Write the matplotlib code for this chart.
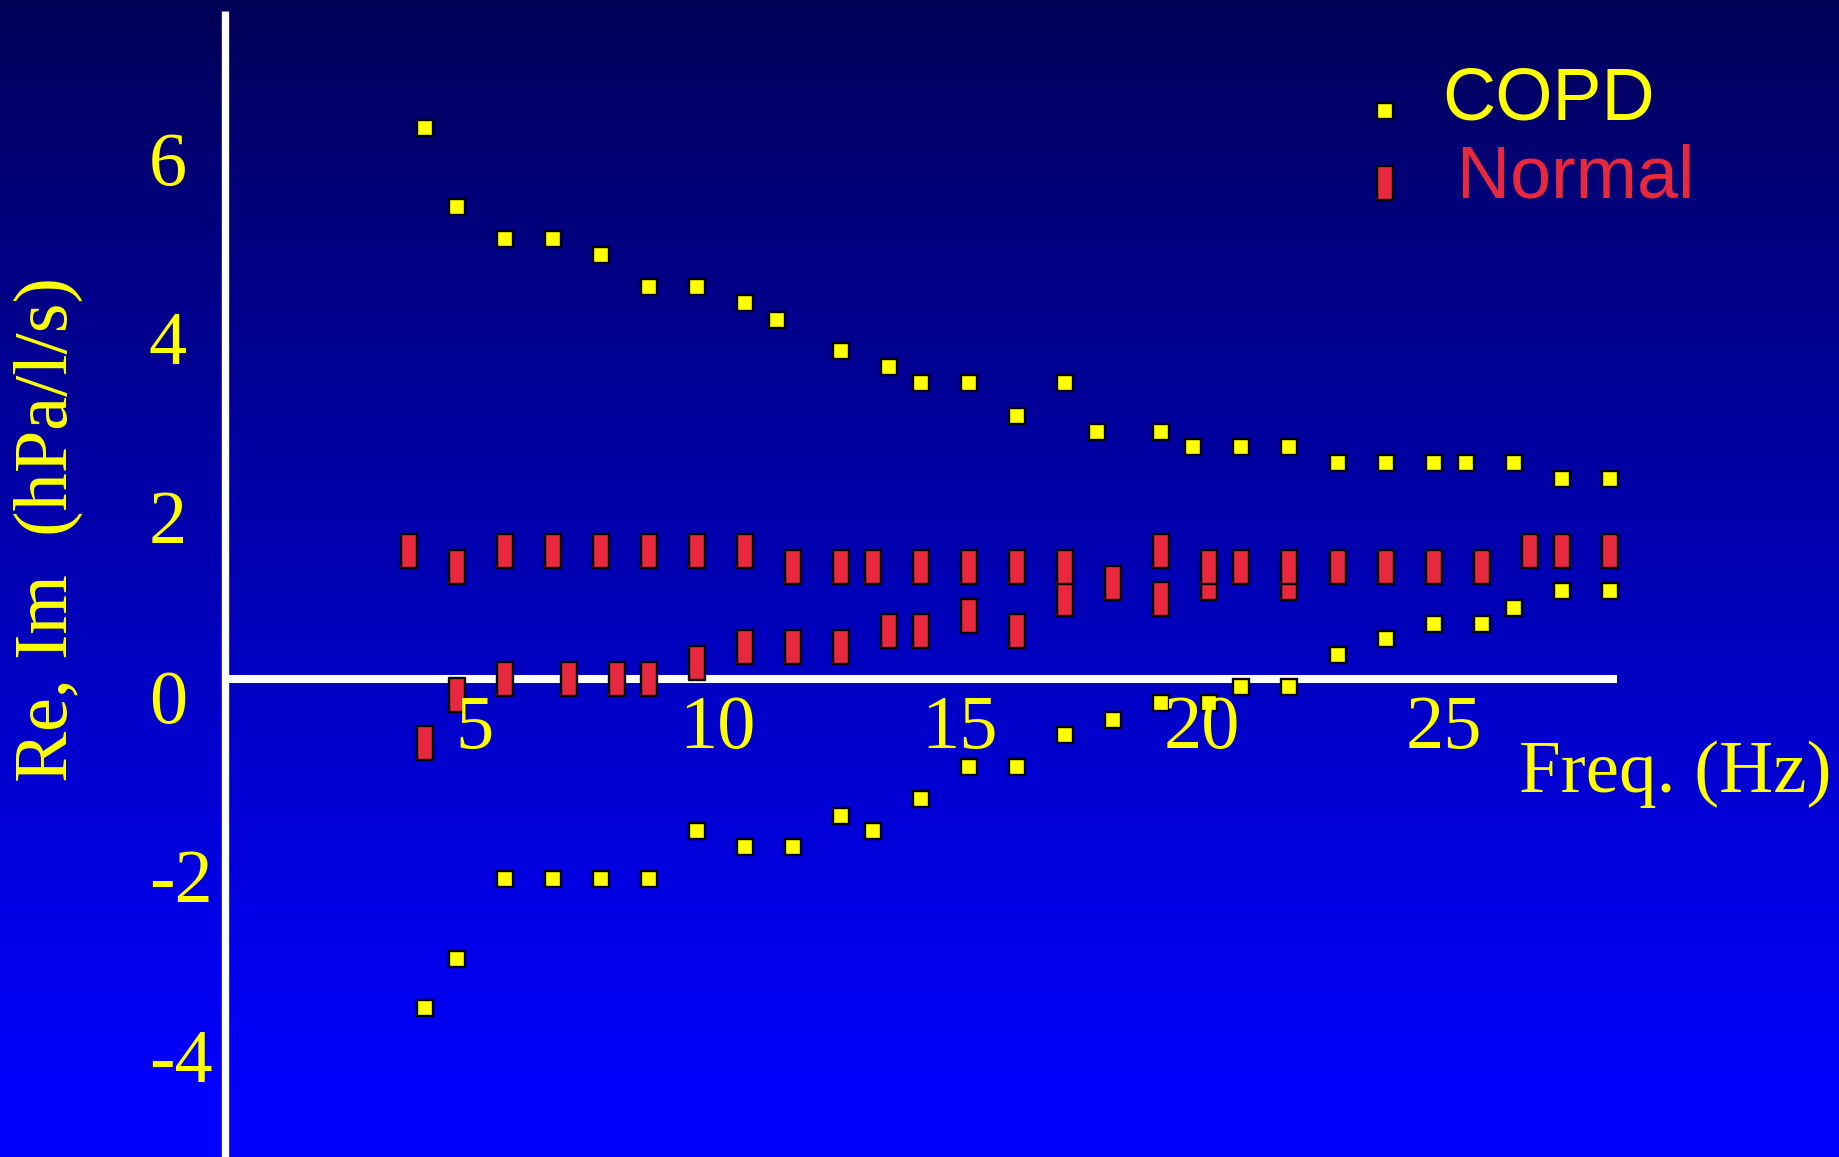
import numpy as np
import matplotlib
matplotlib.use("Agg")
import matplotlib.pyplot as plt
from matplotlib.path import Path
from matplotlib.transforms import ScaledTranslation

plt.rcParams["font.family"] = ["Liberation Serif", "DejaVu Serif"]

# ---- data: oscillometry impedance (real / imaginary parts) vs frequency ----
copd_re_freq = [3.98, 4.64, 5.63, 6.62, 7.61, 8.60, 9.59, 10.58, 11.24, 12.56,
                13.55, 14.21, 15.20, 16.19, 17.18, 17.84, 19.16, 19.82, 20.81,
                21.80, 22.80, 23.79, 24.78, 25.44, 26.43, 27.42, 28.41]
copd_re = [6.15, 5.26, 4.91, 4.91, 4.73, 4.37, 4.37, 4.19, 4.01, 3.66,
           3.48, 3.30, 3.30, 2.94, 3.30, 2.76, 2.76, 2.59, 2.59,
           2.59, 2.41, 2.41, 2.41, 2.41, 2.41, 2.23, 2.23]

copd_im_freq = [3.98, 4.64, 5.63, 6.62, 7.61, 8.60, 9.59, 10.58, 11.57, 12.56,
                13.22, 14.21, 15.20, 16.19, 17.18, 18.17, 19.16, 20.15, 20.81,
                21.80, 22.80, 23.79, 24.78, 25.77, 26.43, 27.42, 28.41]
copd_im = [-3.66, -3.12, -2.23, -2.23, -2.23, -2.23, -1.69, -1.87, -1.87, -1.52,
           -1.69, -1.34, -0.98, -0.98, -0.62, -0.45, -0.27, -0.27, -0.09,
           -0.09, 0.27, 0.45, 0.62, 0.62, 0.80, 0.98, 0.98]

normal_re_freq = [3.65, 4.64, 5.63, 6.62, 7.61, 8.60, 9.59, 10.58, 11.57, 12.56,
                  13.22, 14.21, 15.20, 16.19, 17.18, 18.17, 19.16, 20.15, 20.81,
                  21.80, 22.80, 23.79, 24.78, 25.77, 26.76, 27.42, 28.41]
normal_re = [1.43, 1.25, 1.43, 1.43, 1.43, 1.43, 1.43, 1.43, 1.25, 1.25,
             1.25, 1.25, 1.25, 1.25, 1.25, 1.07, 1.43, 1.25, 1.25,
             1.25, 1.25, 1.25, 1.25, 1.25, 1.43, 1.43, 1.43]

normal_im_freq = [3.98, 4.64, 5.63, 6.95, 7.94, 8.60, 9.59, 10.58, 11.57, 12.56,
                  13.55, 14.21, 15.20, 16.19, 17.18, 19.16, 20.15, 21.80]
normal_im = [-0.71, -0.18, 0.00, 0.00, 0.00, 0.00, 0.18, 0.36, 0.36, 0.36,
             0.54, 0.54, 0.71, 0.54, 0.89, 0.89, 1.07, 1.07]

x_ticks = [5, 10, 15, 20, 25]
y_ticks = [6, 4, 2, 0, -2, -4]
y_tick_labels = ["6", "4", "2", "0", "-2", "-4"]

YELLOW = "#FFFF00"
RED = "#E8283C"

# ---- figure ----
fig = plt.figure(figsize=(18.39, 11.57), dpi=100)
fig.patch.set_facecolor("#0000FF")
ax = fig.add_axes([0, 0, 1, 1])

xlim = (-4.79, 33.144)
ylim = (-5.326, 7.573)

# vertical navy-to-blue gradient background
t = np.linspace(0, 1, 600)
blue = 0x55 + (0xFF - 0x55) * np.clip(t / 0.95, 0, 1) ** 0.9
grad = np.zeros((600, 1, 3))
grad[:, 0, 2] = blue / 255.0
ax.imshow(grad, extent=(xlim[0], xlim[1], ylim[0], ylim[1]), aspect="auto",
          origin="upper", interpolation="bilinear", zorder=0)
ax.set_xlim(*xlim)
ax.set_ylim(*ylim)

# tall rectangle marker for the normal subjects
rect_marker = Path([(-0.5, -1), (0.5, -1), (0.5, 1), (-0.5, 1), (-0.5, -1)],
                   [Path.MOVETO, Path.LINETO, Path.LINETO, Path.LINETO, Path.CLOSEPOLY])

sq_kw = dict(ls="none", marker="s", ms=11.6, mfc=YELLOW, mec="black", mew=1.7, zorder=3)
rc_kw = dict(ls="none", marker=rect_marker, ms=24.3, mfc=RED, mec="black", mew=1.7, zorder=3)

ax.plot(normal_im_freq, normal_im, **rc_kw)
ax.plot(normal_re_freq, normal_re, **rc_kw)
ax.plot(copd_re_freq, copd_re, **sq_kw)
ax.plot(copd_im_freq, copd_im, **sq_kw)

# axes drawn as a cross: white vertical axis and horizontal zero line
for side in ("top", "right"):
    ax.spines[side].set_visible(False)
ax.spines["left"].set_position(("axes", 225.3 / 1839))
ax.spines["left"].set_bounds(ylim[0] - 1, 7.455)
ax.spines["bottom"].set_position(("data", 0))
ax.spines["bottom"].set_bounds(-0.08, 28.57)
for side in ("left", "bottom"):
    ax.spines[side].set_color("white")
    ax.spines[side].set_capstyle("butt")
ax.spines["left"].set_linewidth(5.3)
ax.spines["bottom"].set_linewidth(5.8)

ax.set_xticks(x_ticks)
ax.set_xticklabels([str(v) for v in x_ticks])
ax.set_yticks(y_ticks)
ax.set_yticklabels(y_tick_labels)
ax.tick_params(axis="both", length=0, labelsize=55, labelcolor=YELLOW)
ax.tick_params(axis="x", pad=11)
ax.tick_params(axis="y", pad=55)
ax.xaxis.set_zorder(4)
ax.yaxis.set_zorder(4)
shift = ScaledTranslation(0, -0.17, fig.dpi_scale_trans)
for lbl in ax.get_yticklabels():
    lbl.set_horizontalalignment("left")
    lbl.set_transform(lbl.get_transform() + shift)

ax.set_ylabel("Re, Im  (hPa/l/s)", fontsize=55, color=YELLOW)
ax.yaxis.set_label_coords(83 / 1839, 1 - 530 / 1157)
ax.set_xlabel("Freq. (Hz)", fontsize=54, color=YELLOW)
ax.xaxis.set_label_coords(1675.5 / 1839, 1 - 740 / 1157)

# legend
sans = ["Liberation Sans", "DejaVu Sans"]
ax.plot([1385.3 / 1839], [1 - 111.3 / 1157], transform=ax.transAxes,
        clip_on=False, **sq_kw)
ax.plot([1385.3 / 1839], [1 - 183.3 / 1157], transform=ax.transAxes,
        clip_on=False, **rc_kw)
ax.text(1442 / 1839, 1 - 119 / 1157, "COPD", transform=ax.transAxes,
        fontsize=53, color=YELLOW, family=sans, va="baseline", ha="left")
ax.text(1457 / 1839, 1 - 198 / 1157, "Normal", transform=ax.transAxes,
        fontsize=53, color=RED, family=sans, va="baseline", ha="left")

fig.savefig("out.png", dpi=100)
